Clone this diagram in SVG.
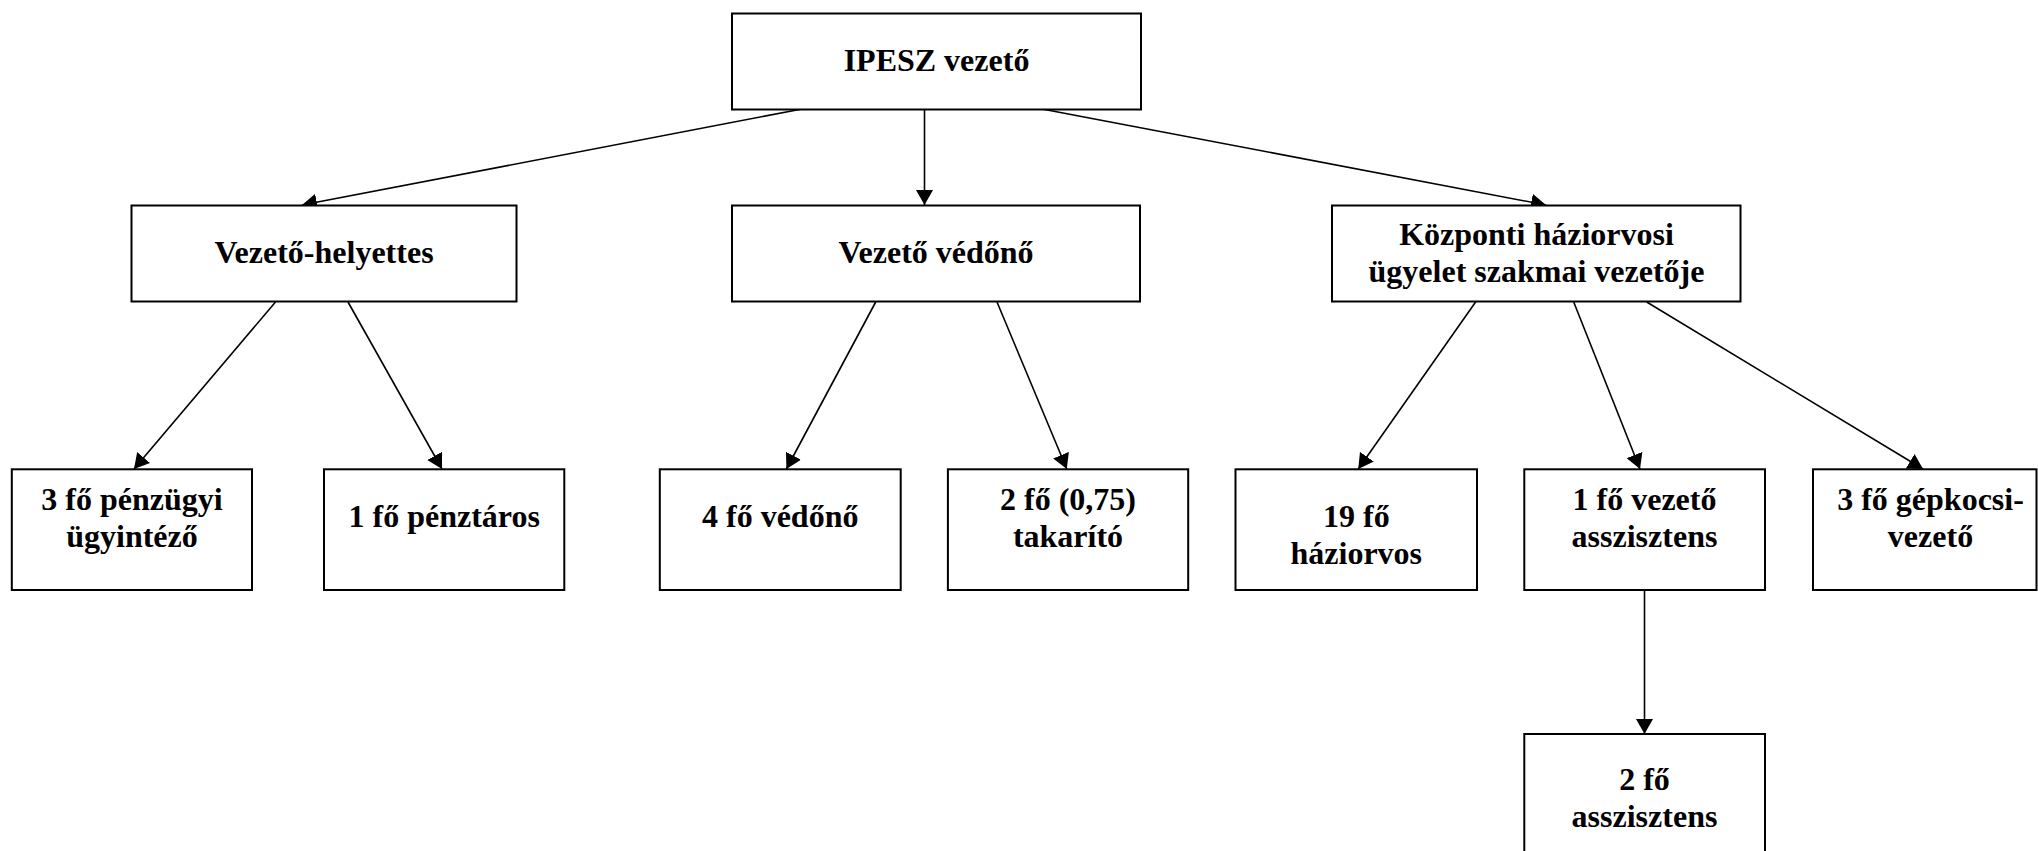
<svg xmlns="http://www.w3.org/2000/svg" width="2038" height="851" viewBox="0 0 2038 851">
<style>
.box{fill:#fff;stroke:#000;stroke-width:2}
.t{font-family:"Liberation Serif","Times New Roman",serif;font-weight:bold;font-size:32px;text-anchor:middle;fill:#000}
.c{stroke:#000;stroke-width:1.6;fill:none;marker-end:url(#ah)}
</style>
<defs>
<marker id="ah" markerUnits="userSpaceOnUse" markerWidth="16" markerHeight="17" refX="15" refY="8.5" orient="auto" viewBox="0 0 16 17">
<path d="M0,0 L15,8.5 L0,17 z" fill="#000"/>
</marker>
</defs>
<rect width="2038" height="851" fill="#fff"/>
<g id="connectors">
<line class="c" x1="802" y1="109" x2="302" y2="205"/>
<line class="c" x1="924.5" y1="109" x2="924.5" y2="205"/>
<line class="c" x1="1042" y1="109" x2="1546" y2="205"/>
<line class="c" x1="275.5" y1="302" x2="134" y2="469"/>
<line class="c" x1="348" y1="302" x2="442" y2="469"/>
<line class="c" x1="875.7" y1="302" x2="786.4" y2="469"/>
<line class="c" x1="997" y1="302" x2="1066.8" y2="469"/>
<line class="c" x1="1475.6" y1="302" x2="1358.3" y2="469"/>
<line class="c" x1="1573.7" y1="302" x2="1640" y2="469"/>
<line class="c" x1="1646.7" y1="302" x2="1923" y2="469"/>
<line class="c" x1="1644.5" y1="590" x2="1644.5" y2="734"/>
</g>
<g id="n-ipesz"><rect class="box" x="732" y="13.5" width="409" height="96"/><text class="t" x="936.5" y="71">IPESZ vezető</text></g>
<g id="n-vh"><rect class="box" x="131.5" y="205.5" width="385" height="96"/><text class="t" x="324" y="262.7">Vezető-helyettes</text></g>
<g id="n-vv"><rect class="box" x="732" y="205.5" width="408" height="96"/><text class="t" x="936" y="262.7">Vezető védőnő</text></g>
<g id="n-kozp"><rect class="box" x="1332" y="205.5" width="408.5" height="96"/><text class="t" x="1536.5" y="245">Központi háziorvosi</text><text class="t" x="1536.5" y="281.7">ügyelet szakmai vezetője</text></g>
<g id="n-penzugyi"><rect class="box" x="11.8" y="469.3" width="240.2" height="120.7"/><text class="t" x="132" y="510">3 fő pénzügyi</text><text class="t" x="132" y="546.7">ügyintéző</text></g>
<g id="n-penztaros"><rect class="box" x="324" y="469.3" width="240.3" height="120.7"/><text class="t" x="444.2" y="526.7">1 fő pénztáros</text></g>
<g id="n-vedono"><rect class="box" x="659.8" y="469.3" width="240.9" height="120.7"/><text class="t" x="780.2" y="526.7">4 fő védőnő</text></g>
<g id="n-takarito"><rect class="box" x="947.9" y="469.3" width="240.3" height="120.7"/><text class="t" x="1068" y="510">2 fő (0,75)</text><text class="t" x="1068" y="546.7">takarító</text></g>
<g id="n-haziorvos"><rect class="box" x="1235.5" y="469.3" width="241.5" height="120.7"/><text class="t" x="1356.3" y="526.7">19 fő</text><text class="t" x="1356.3" y="563.7">háziorvos</text></g>
<g id="n-vezasszisztens"><rect class="box" x="1524.3" y="469.3" width="240.7" height="120.7"/><text class="t" x="1644.5" y="510">1 fő vezető</text><text class="t" x="1644.5" y="546.7">asszisztens</text></g>
<g id="n-gepkocsi"><rect class="box" x="1813" y="469.3" width="223.5" height="120.7"/><text class="t" x="1930.5" y="510">3 fő gépkocsi-</text><text class="t" x="1930.5" y="546.7">vezető</text></g>
<g id="n-asszisztens"><rect class="box" x="1524.3" y="734" width="240.7" height="130"/><text class="t" x="1644.5" y="790">2 fő</text><text class="t" x="1644.5" y="827.3">asszisztens</text></g>
</svg>
